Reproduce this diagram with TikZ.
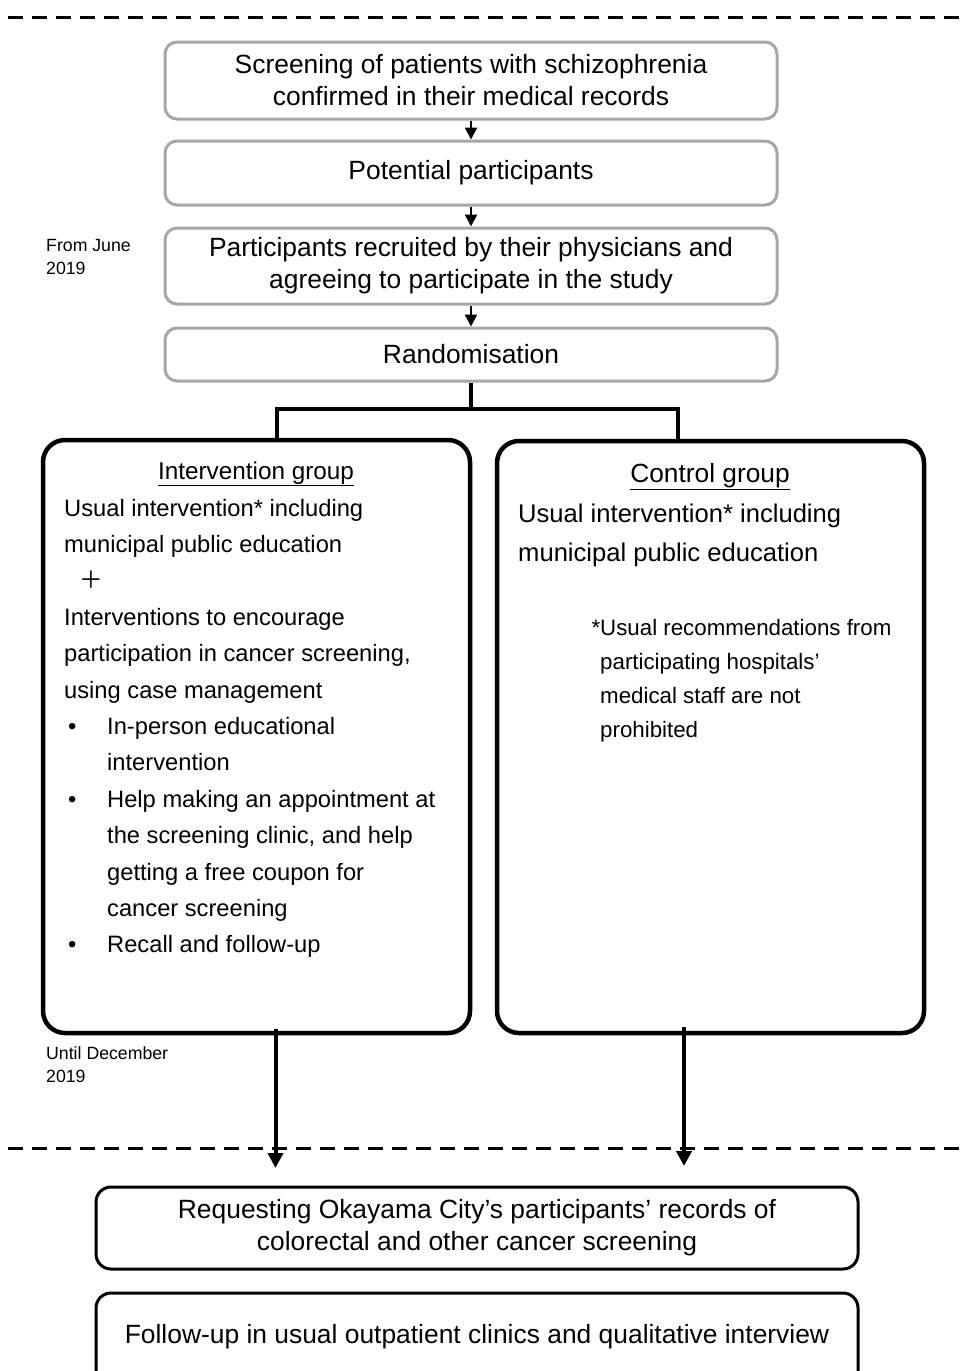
\documentclass[tikz,border=0pt]{standalone}
\usepackage{fontspec}
\setmainfont{Liberation Sans}
\newfontfamily\cjkfont{Noto Sans CJK JP}
\usetikzlibrary{arrows.meta}
\definecolor{boxgray}{RGB}{166,166,166}
\newcommand{\mybul}{\makebox[43pt][l]{\hspace*{4pt}•}}
\newcommand{\myind}{\hspace*{43pt}}
\tikzset{
  graybox/.style={draw=boxgray, line width=3pt, rounded corners=12pt, minimum width=612pt,
    inner sep=0pt, align=center, font=\fontsize{26.4}{32}\selectfont},
  bigbox/.style={draw, line width=4.5pt, rounded corners=22pt, inner sep=0pt},
  endbox/.style={draw, line width=3pt, rounded corners=15pt, minimum width=762pt,
    inner sep=0pt, align=center, font=\fontsize{26.4}{32}\selectfont},
  smallarrow/.style={line width=2.2pt, -{Triangle[length=12pt,width=12pt]}},
  bigarrow/.style={line width=4pt, -{Triangle[length=15pt,width=15pt]}},
  joinline/.style={line width=4pt},
  dashline/.style={line width=3pt, dash pattern=on 15pt off 9pt},
  txtblock/.style={anchor=base west, inner sep=0pt},
}
\begin{document}
\begin{tikzpicture}[x=1pt,y=-1pt]
\useasboundingbox (0,0) rectangle (960,1371);
\clip (0,0) rectangle (960,1371);

% dashed separators
\draw[dashline, dash phase=-8pt] (0,17) -- (960,17);
\draw[dashline, dash phase=-8pt] (0,1148) -- (960,1148);

% top boxes
\node[graybox, minimum height=77pt] (b1) at (471,80.5)
  {Screening of patients with schizophrenia\\confirmed in their medical records};
\node[graybox, minimum height=64pt] (b2) at (471,173) {Potential participants};
\node[graybox, minimum height=76pt] (b3) at (471,266)
  {Participants recruited by their physicians and\\agreeing to participate in the study};
\node[graybox, minimum height=53pt] (b4) at (471,354.5) {Randomisation};

\draw[smallarrow] (b1) -- (b2);
\draw[smallarrow] (b2) -- (b3);
\draw[smallarrow] (b3) -- (b4);

% date labels
\node[txtblock] (d1) at (46,251)
  {\parbox[t]{150pt}{\fontsize{17.7}{23}\selectfont From June\\2019}};
\node[txtblock] (d2) at (46,1059)
  {\parbox[t]{200pt}{\fontsize{17.7}{23}\selectfont Until December\\2019}};

% big boxes
\node[bigbox, minimum width=427pt, minimum height=593pt] (lbox) at (256.5,736.5) {};
\node[bigbox, minimum width=427pt, minimum height=592pt] (rbox) at (710.5,737) {};

% split connector
\coordinate (split) at (471,409);
\coordinate (jl) at (277,409);
\coordinate (jr) at (678,409);
\draw[joinline] (b4.south) -- (split);
\draw[joinline] (lbox.north -| jl) -- (jl) -- (jr) -- (rbox.north -| jr);

% left box text
\node[anchor=base, inner sep=0pt, font=\fontsize{24.3}{30}\selectfont] (ltitle) at (256,479)
  {\underline{Intervention group}};
\node[txtblock] (ltext) at (64,516) {\parbox[t]{400pt}{\raggedright\fontsize{23.7}{36.4}\selectfont
Usual intervention* including\\
municipal public education\\
\hspace*{15pt}{\cjkfont ＋}\\
Interventions to encourage\\
participation in cancer screening,\\
using case management\\
\mybul In-person educational\\
\myind intervention\\
\mybul Help making an appointment at\\
\myind the screening clinic, and help\\
\myind getting a free coupon for\\
\myind cancer screening\\
\mybul Recall and follow-up}};

% right box text
\node[anchor=base, inner sep=0pt, font=\fontsize{26.3}{30}\selectfont] (rtitle) at (710,482)
  {\underline{Control group}};
\node[txtblock] (rtext) at (518,522) {\parbox[t]{400pt}{\raggedright\fontsize{25.6}{39}\selectfont
Usual intervention* including\\
municipal public education}};
\node[txtblock] (rnote) at (600,635) {\parbox[t]{320pt}{\raggedright\fontsize{22.3}{34}\selectfont
\leavevmode\llap{*}Usual recommendations from\\
participating hospitals’\\
medical staff are not\\
prohibited}};

% arrows to the end
\coordinate (la) at (275.5,1168);
\coordinate (ra) at (684,1166);
\draw[bigarrow] ([yshift=6pt]lbox.south -| la) -- (la);
\draw[bigarrow] ([yshift=8pt]rbox.south -| ra) -- (ra);

% bottom boxes
\node[endbox, minimum height=82pt] (b5) at (477,1228)
  {Requesting Okayama City’s participants’ records of\\colorectal and other cancer screening};
\node[endbox, minimum height=107pt] (b6) at (477,1346.5) {};
\node[inner sep=0pt, font=\fontsize{26.4}{32}\selectfont] (t6) at (477,1337)
  {Follow-up in usual outpatient clinics and qualitative interview};
\end{tikzpicture}
\end{document}
